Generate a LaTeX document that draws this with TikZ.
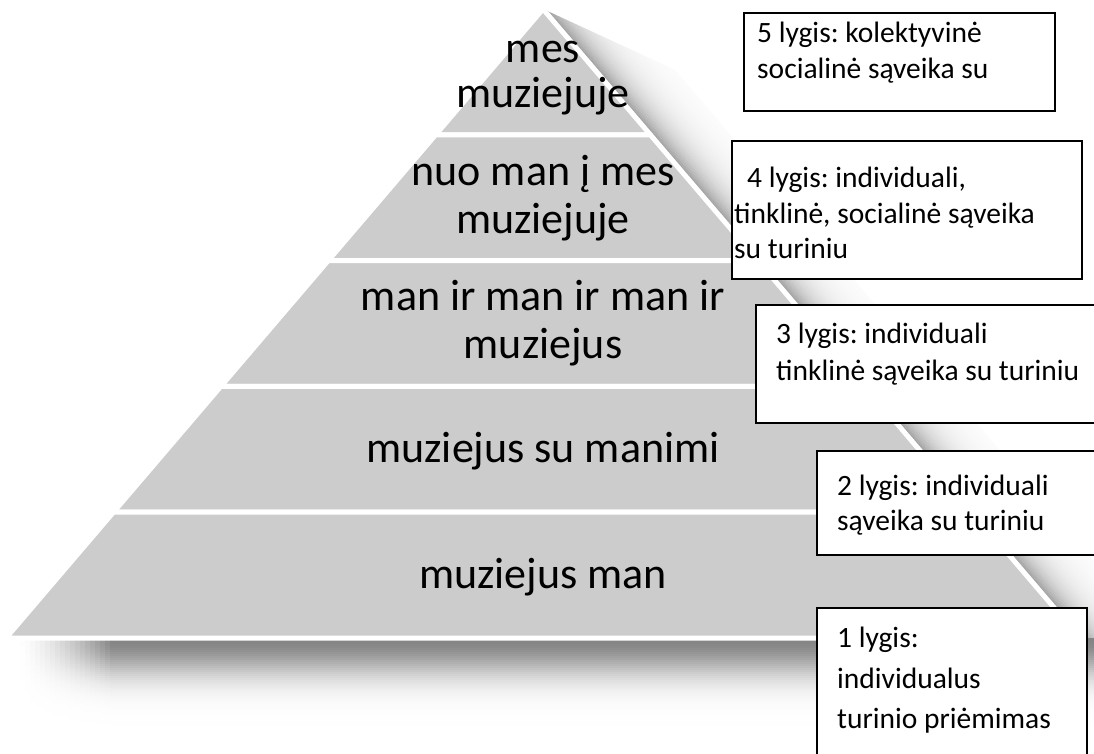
\documentclass[tikz,border=0pt]{standalone}
\usepackage{fontspec}
\setmainfont{Carlito}
\usetikzlibrary{calc}
\definecolor{pyr}{RGB}{204,204,204}
\begin{document}
\frenchspacing
\begin{tikzpicture}[x=1pt,y=-1pt,
  slice/.style={fill=pyr,draw=white,line width=5pt,line join=round},
  ptext/.style={inner sep=0pt,anchor=base,font=\fontsize{44}{48}\selectfont},
  lbox/.style={draw=black,line width=1.5pt,fill=white,inner sep=0pt,anchor=north west},
  btext/.style={inner sep=0pt,anchor=base west,font=\fontsize{29.5}{36}\selectfont}]
\useasboundingbox (0,0) rectangle (1094,753);
\clip (0,0) rectangle (1094,753);
\coordinate (A) at (543,9);
\coordinate (BL) at (6,638);
\coordinate (BR) at (1080,638);
\foreach \k in {1,2,3,4}{
  \coordinate (L\k) at ($(A)!\k/5!(BL)$);
  \coordinate (R\k) at ($(A)!\k/5!(BR)$);
}
% shadow along the right edge
\foreach \i in {31,30,...,0}{
  \pgfmathsetmacro\c{40*exp(-\i/9)}
  \pgfmathsetmacro\d{2.5*\i}
  \fill[black!\c] ($(A)+(\d,0)+(0.65*\d,0.76*\d)$) -- ($(BR)+(\d,0)$) -- ($(BR)+(\d+2.7,0)$) -- ($(A)+(\d+2.7,0)+(0.65*\d+1.7,0.76*\d+2)$) -- cycle;
}
% shadow below the base
\foreach \j in {0,...,44}{
  \pgfmathsetmacro\g{48*exp(-(\j/18)^2)}
  \pgfmathsetmacro\y{638+2*\j}
  \fill[black!\g] (109.5,\y) rectangle (1094,\y+2.2);
  \foreach \m in {0,...,18}{
    \pgfmathsetmacro\h{\g*(\m/19)^1.5}
    \fill[black!\h] (15+5*\m,\y) rectangle (20.3+5*\m,\y+2.2);
  }
}
% pyramid slices
\draw[slice] (A) -- (L1) -- (R1) -- cycle;
\draw[slice] (L1) -- (L2) -- (R2) -- (R1) -- cycle;
\draw[slice] (L2) -- (L3) -- (R3) -- (R2) -- cycle;
\draw[slice] (L3) -- (L4) -- (R4) -- (R3) -- cycle;
\draw[slice] (L4) -- (BL) -- (BR) -- (R4) -- cycle;
% pyramid texts
\node[ptext] (p5a) at (543,62) {mes};
\node[ptext] (p5b) at (543,107) {muziejuje};
\node[ptext] (p4a) at (543,185) {nuo man į mes};
\node[ptext] (p4b) at (543,233) {muziejuje};
\node[ptext] (p3a) at (543,310) {man ir man ir man ir};
\node[ptext] (p3b) at (543,358) {muziejus};
\node[ptext] (p2) at (543,462) {muziejus su manimi};
\node[ptext] (p1) at (543,588) {muziejus man};
% level boxes
\node[lbox,minimum width=311pt,minimum height=98pt] (b5) at (743,12) {};
\node[lbox,minimum width=350pt,minimum height=138pt] (b4) at (731,140) {};
\node[lbox,minimum width=345pt,minimum height=118pt] (b3) at (755,304) {};
\node[lbox,minimum width=284pt,minimum height=104pt] (b2) at (816,450) {};
\node[lbox,minimum width=270pt,minimum height=170pt] (b1) at (816,607) {};
% box texts
\node[btext] (t5a) at (757,42) {5 lygis: kolektyvinė};
\node[btext] (t5b) at (757,78) {socialinė sąveika su};
\node[btext] (t4a) at (747,187) {4 lygis: individuali,};
\node[btext] (t4b) at (734,223) {tinklinė, socialinė sąveika};
\node[btext] (t4c) at (734,258) {su turiniu};
\node[btext] (t3a) at (776,343) {3 lygis: individuali};
\node[btext] (t3b) at (776,380) {tinklinė sąveika su turiniu};
\node[btext] (t2a) at (837,495) {2 lygis: individuali};
\node[btext] (t2b) at (837,530) {sąveika su turiniu};
\node[btext] (t1a) at (837,647) {1 lygis:};
\node[btext] (t1b) at (837,688) {individualus};
\node[btext] (t1c) at (837,728) {turinio priėmimas};
\end{tikzpicture}
\end{document}
